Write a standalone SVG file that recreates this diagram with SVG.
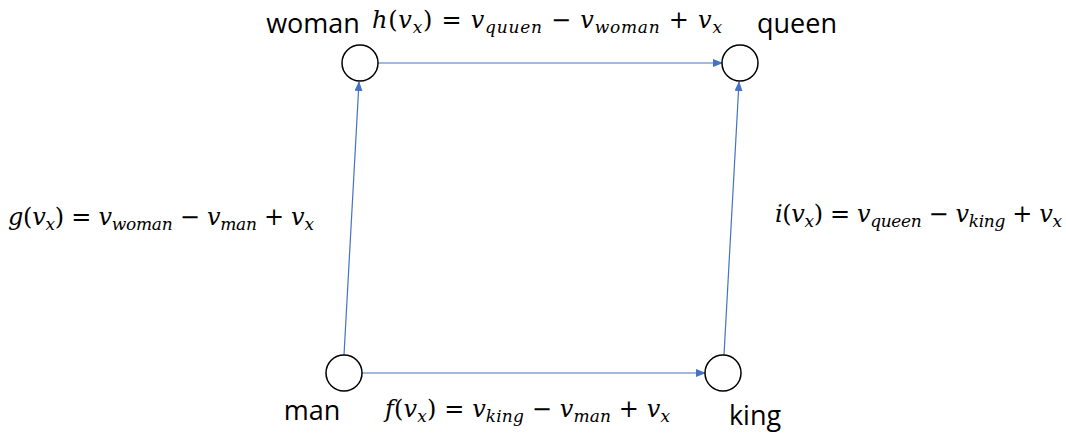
<svg xmlns="http://www.w3.org/2000/svg" width="1066" height="434" viewBox="0 0 1066 434">
<style>
.node circle{fill:#fff;stroke:#000;stroke-width:1.5}
.lbl{font-family:"Open Sans","Liberation Sans",sans-serif;font-size:27px;fill:#000;text-anchor:middle}
.eq{font-family:"DejaVu Serif","Liberation Serif",serif;font-style:italic;font-size:24px;fill:#000}
.up{font-style:normal}
.sub{font-size:17px}
.conn line{stroke:#4472C4;stroke-width:1.2;marker-end:url(#ah)}
</style>
<defs>
<marker id="ah" markerWidth="10" markerHeight="8" refX="9" refY="4" orient="auto" markerUnits="userSpaceOnUse">
<path d="M0,0 L10,4 L0,8 Z" fill="#4472C4"/>
</marker>
</defs>
<rect width="1066" height="434" fill="#fff"/>
<g id="connectors" class="conn">
<line x1="362" y1="373" x2="705" y2="373"/>
<line x1="378" y1="63" x2="722" y2="63"/>
<line x1="344" y1="355" x2="359" y2="82"/>
<line x1="724" y1="355" x2="739" y2="82"/>
</g>
<g id="woman" class="node"><circle cx="360" cy="63" r="18"/><text class="lbl" x="313" y="33">woman</text></g>
<g id="queen" class="node"><circle cx="740" cy="63" r="18"/><text class="lbl" x="797" y="33">queen</text></g>
<g id="man" class="node"><circle cx="344" cy="373" r="18"/><text class="lbl" x="312" y="420">man</text></g>
<g id="king" class="node"><circle cx="723" cy="373" r="18"/><text class="lbl" x="755" y="425">king</text></g>
<g id="labels">
<text class="eq" x="372" y="28" textLength="350" lengthAdjust="spacing">h<tspan class="up">(</tspan>v<tspan class="sub" dy="5">x</tspan><tspan class="up" dy="-5">) = </tspan>v<tspan class="sub" dy="5">quuen</tspan><tspan class="up" dy="-5"> − </tspan>v<tspan class="sub" dy="5">woman</tspan><tspan class="up" dy="-5"> + </tspan>v<tspan class="sub" dy="5">x</tspan></text>
<text class="eq" x="8" y="225" textLength="306" lengthAdjust="spacing">g<tspan class="up">(</tspan>v<tspan class="sub" dy="5">x</tspan><tspan class="up" dy="-5">) = </tspan>v<tspan class="sub" dy="5">woman</tspan><tspan class="up" dy="-5"> − </tspan>v<tspan class="sub" dy="5">man</tspan><tspan class="up" dy="-5"> + </tspan>v<tspan class="sub" dy="5">x</tspan></text>
<text class="eq" x="775" y="222" textLength="287" lengthAdjust="spacing">i<tspan class="up">(</tspan>v<tspan class="sub" dy="5">x</tspan><tspan class="up" dy="-5">) = </tspan>v<tspan class="sub" dy="5">queen</tspan><tspan class="up" dy="-5"> − </tspan>v<tspan class="sub" dy="5">king</tspan><tspan class="up" dy="-5"> + </tspan>v<tspan class="sub" dy="5">x</tspan></text>
<text class="eq" x="385" y="417" textLength="285" lengthAdjust="spacing">f<tspan class="up">(</tspan>v<tspan class="sub" dy="5">x</tspan><tspan class="up" dy="-5">) = </tspan>v<tspan class="sub" dy="5">king</tspan><tspan class="up" dy="-5"> − </tspan>v<tspan class="sub" dy="5">man</tspan><tspan class="up" dy="-5"> + </tspan>v<tspan class="sub" dy="5">x</tspan></text>
</g>
</svg>
